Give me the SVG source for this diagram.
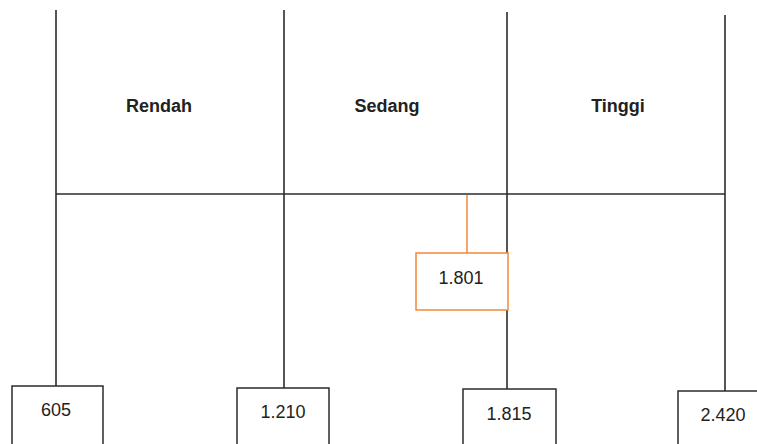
<svg xmlns="http://www.w3.org/2000/svg" width="757" height="444" viewBox="0 0 757 444">
<style>
.ln{stroke:#2b2b2b;stroke-width:1.6;fill:none}
.bx{stroke:#2b2b2b;stroke-width:1.5;fill:#fff}
.ob{stroke:#f0883a;stroke-width:1.5;fill:#fff}
.ol{stroke:#f0883a;stroke-width:1.5;fill:none}
.lab{font-family:"Liberation Sans",Arial,sans-serif;font-weight:bold;font-size:18px;fill:#222;text-anchor:middle}
.num{font-family:"Liberation Sans",Arial,sans-serif;font-size:18px;fill:#222;text-anchor:middle}
</style>
<rect width="757" height="444" fill="#fff"/>
<g id="connectors">
<line class="ln" x1="56" y1="10" x2="56" y2="386"/>
<line class="ln" x1="284" y1="10" x2="284" y2="388"/>
<line class="ln" x1="507" y1="12" x2="507" y2="389"/>
<line class="ln" x1="725" y1="15" x2="725" y2="391"/>
<line class="ln" x1="56" y1="194" x2="725" y2="194"/>
<line class="ol" x1="467" y1="195" x2="467" y2="253"/>
</g>
<g id="label-rendah"><text class="lab" x="159" y="112">Rendah</text></g>
<g id="label-sedang"><text class="lab" x="387" y="112">Sedang</text></g>
<g id="label-tinggi"><text class="lab" x="618" y="112">Tinggi</text></g>
<g id="node-1801"><rect class="ob" x="416" y="253" width="92" height="57"/><text class="num" x="461" y="284">1.801</text></g>
<g id="node-605"><rect class="bx" x="12" y="386" width="91" height="70"/><text class="num" x="56" y="416">605</text></g>
<g id="node-1210"><rect class="bx" x="237" y="388" width="92" height="70"/><text class="num" x="283" y="418">1.210</text></g>
<g id="node-1815"><rect class="bx" x="463" y="389" width="93" height="70"/><text class="num" x="509" y="420">1.815</text></g>
<g id="node-2420"><rect class="bx" x="678" y="391" width="95" height="70"/><text class="num" x="723" y="421">2.420</text></g>
</svg>
